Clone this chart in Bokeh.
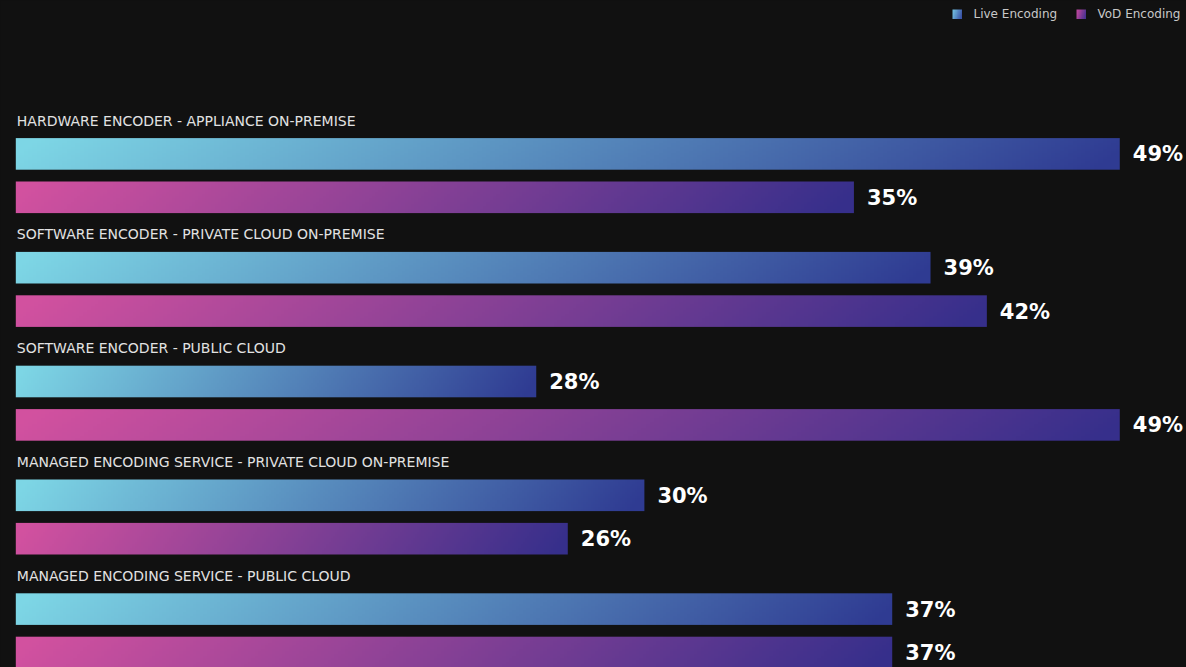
import numpy as np
from bokeh.plotting import figure
from bokeh.models import Range1d, GlobalInlineStyleSheet
from bokeh.core.properties import value
from bokeh.embed import file_html
from bokeh.resources import INLINE

# ---------------- data ----------------
categories = [
    "HARDWARE ENCODER - APPLIANCE ON-PREMISE",
    "SOFTWARE ENCODER - PRIVATE CLOUD ON-PREMISE",
    "SOFTWARE ENCODER - PUBLIC CLOUD",
    "MANAGED ENCODING SERVICE - PRIVATE CLOUD ON-PREMISE",
    "MANAGED ENCODING SERVICE - PUBLIC CLOUD",
]
series = ["Live Encoding", "VoD Encoding"]
# bar lengths as drawn in the picture (same unit as the 49% bars)
live_values = [49.0, 40.6, 23.1, 27.9, 38.9]
vod_values = [37.2, 43.1, 49.0, 24.5, 38.9]
# printed value labels
live_labels = ["49%", "39%", "28%", "30%", "37%"]
vod_labels = ["35%", "42%", "49%", "26%", "37%"]

# ---------------- layout / style ----------------
W, H = 1186, 667
X0_PX = 15.3          # pixel where value 0 sits
PPU = 22.53           # pixels per value unit
PITCH = 113.8         # vertical distance between groups
LABEL_BASE = 120.0    # baseline of first category label
LIVE_TOP = 137.6
VOD_TOP = 181.0
BAR_H = 31.6
BG = "#111111"

LIVE_C = ("#7dd6e5", "#2f3b92")
VOD_C = ("#d2519f", "#362f8b")


def hex_rgb(c):
    c = c.lstrip("#")
    return np.array([int(c[i:i + 2], 16) for i in (0, 2, 4)], dtype=float)


def gradient(c0, c1, w=256, h=16, tilt=0.04):
    a, b = hex_rgb(c0), hex_rgb(c1)
    u = np.linspace(0, 1, w)[None, :]
    v = np.linspace(0, 1, h)[:, None]        # row 0 is the bottom
    t = np.clip(u - tilt * (v - 0.5), 0, 1)
    img = np.empty((h, w), dtype=np.uint32)
    view = img.view(dtype=np.uint8).reshape((h, w, 4))
    for k in range(3):
        view[:, :, k] = np.round(a[k] + (b[k] - a[k]) * t).astype(np.uint8)
    view[:, :, 3] = 255
    return img


p = figure(
    width=W, height=H,
    x_range=Range1d(-X0_PX / PPU, (W - X0_PX) / PPU),
    y_range=Range1d(-H, 0),
    output_backend="svg", toolbar_location=None,
    x_axis_location=None, y_axis_location=None,
    min_border=0, background_fill_color=BG, border_fill_color=BG,
)
p.extra_x_ranges = {"px": Range1d(0, W)}
p.grid.visible = False
p.outline_line_color = None
p.stylesheets = [GlobalInlineStyleSheet(
    css="html,body{margin:0;padding:0;background:#111111;overflow:hidden;}")]

n = len(categories)
live_img = gradient(*LIVE_C)
vod_img = gradient(*VOD_C)

imgs, xs, ys, dws, dhs = [], [], [], [], []
for i in range(n):
    imgs += [live_img, vod_img]
    xs += [0, 0]
    ys += [-(LIVE_TOP + i * PITCH + BAR_H), -(VOD_TOP + i * PITCH + BAR_H)]
    dws += [live_values[i], vod_values[i]]
    dhs += [BAR_H, BAR_H]
p.image_rgba(image=imgs, x=xs, y=ys, dw=dws, dh=dhs)

# value labels
lab_x = [v for pair in zip(live_values, vod_values) for v in pair]
lab_t = [t for pair in zip(live_labels, vod_labels) for t in pair]
lab_y = []
for i in range(n):
    lab_y += [-(LIVE_TOP + i * PITCH + BAR_H / 2), -(VOD_TOP + i * PITCH + BAR_H / 2)]
p.text(x=lab_x, y=lab_y, text=lab_t, x_offset=13, y_offset=0.5,
       text_baseline="middle", text_align="left",
       text_font=value("DejaVu Sans"), text_font_style="bold",
       text_font_size="21px", text_color="#ffffff")

# category labels
p.text(x=[0] * n, y=[-(LABEL_BASE + i * PITCH) for i in range(n)], text=categories,
       x_offset=1, text_baseline="alphabetic", text_align="left",
       text_font=value("DejaVu Sans"), text_font_size="14px",
       text_color="#e2e2e2")

# legend (top right)
leg_x = [952, 1076]
leg_img = [gradient("#6fb8dc", "#3a52a6", 16, 16, 0.3),
           gradient("#b8469c", "#4a3190", 16, 16, 0.3)]
p.image_rgba(image=leg_img, x=leg_x, y=[-18.5, -18.5], dw=[9.5, 9.5], dh=[9.5, 9.5],
             x_range_name="px")
p.text(x=[x + 21 for x in leg_x], y=[-13.3, -13.3], text=series,
       x_range_name="px", text_baseline="middle", text_align="left",
       text_font=value("DejaVu Sans"), text_font_size="12px",
       text_color="#c8c8c8")

open("out.html", "w").write(file_html(p, INLINE))
